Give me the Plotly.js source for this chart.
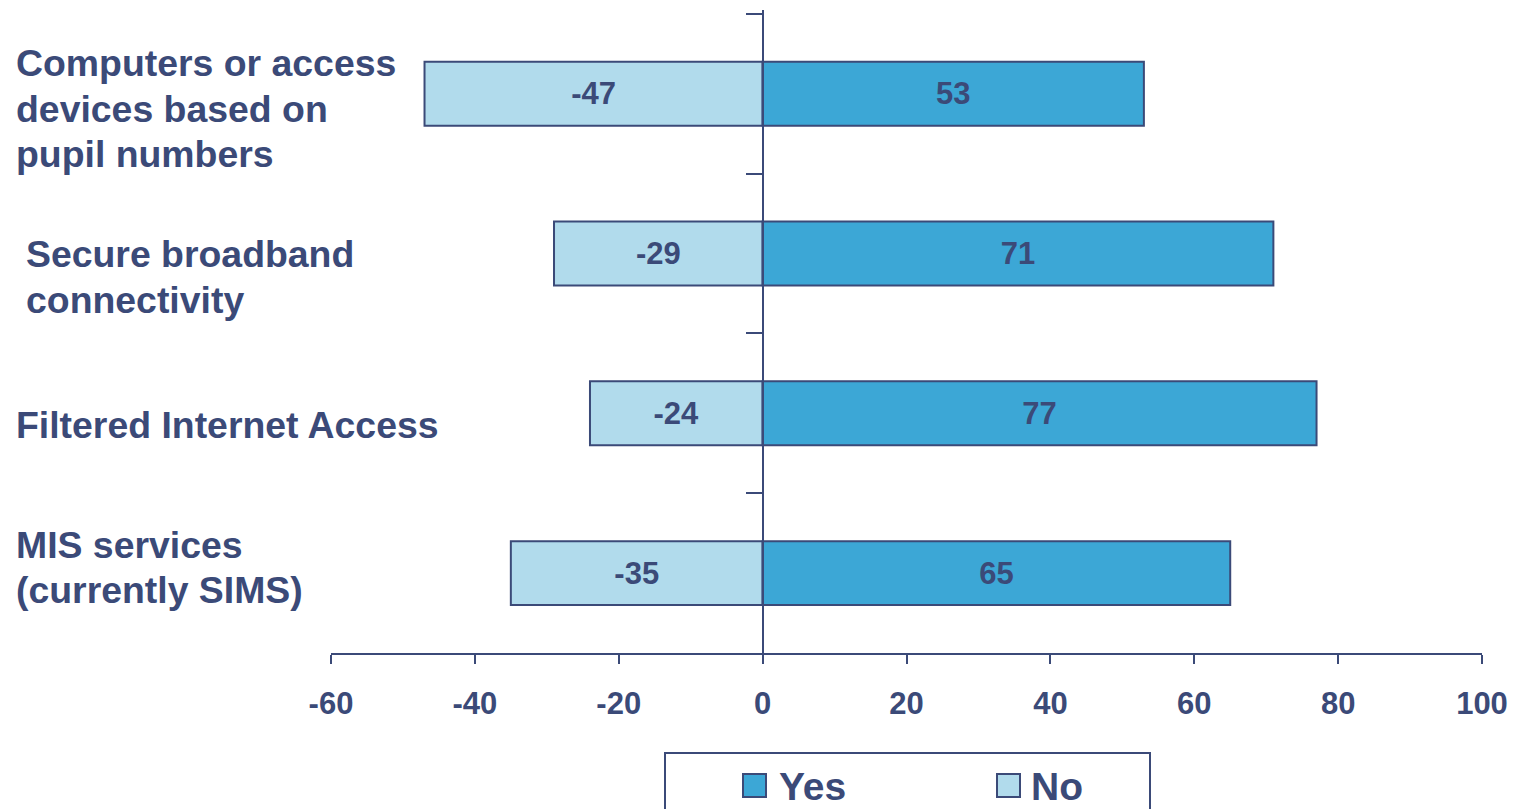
<!DOCTYPE html>
<html>
<head>
<meta charset="utf-8">
<script src="https://cdn.plot.ly/plotly-3.0.1.min.js"></script>
<style>html,body{margin:0;padding:0;background:#fff;}#chart{width:1515px;height:809px;}</style>
</head>
<body>
<div id="chart"></div>
<script>
// ---- data ----
const categories = [
  "Computers or access devices based on pupil numbers",
  "Secure broadband connectivity",
  "Filtered Internet Access",
  "MIS services (currently SIMS)"
];
const categoryLabelLines = [
  ["Computers or access", "devices based on", "pupil numbers"],
  ["Secure broadband", "connectivity"],
  ["Filtered Internet Access"],
  ["MIS services", "(currently SIMS)"]
];
const yesValues = [53, 71, 77, 65];
const noValues = [-47, -29, -24, -35];
const seriesNames = ["Yes", "No"];
const xTickValues = [-60, -40, -20, 0, 20, 40, 60, 80, 100];

// ---- styles ----
const ink = "#3B4A78";
const yesColor = "#3CA7D6";
const noColor = "#B1DBEC";
const fontFam = "Liberation Sans, Arial, sans-serif";
const xRange = [-60, 100];

const W = 1515, H = 809;
const M = {l: 331, r: 33, t: 10, b: 156};
const plotW = W - M.l - M.r, plotH = H - M.t - M.b;
const px2x = p => (p - M.l) / plotW;
const px2y = p => (H - M.b - p) / plotH;

const traces = [
  {
    type: "bar", orientation: "h", name: seriesNames[1],
    y: categories, x: noValues, text: noValues.map(String),
    textposition: "inside", insidetextanchor: "middle",
    textfont: {family: fontFam, size: 31, color: ink, weight: "bold"},
    marker: {color: noColor, line: {color: ink, width: 2}},
    width: 0.4, showlegend: false, hoverinfo: "x+y"
  },
  {
    type: "bar", orientation: "h", name: seriesNames[0],
    y: categories, x: yesValues, text: yesValues.map(String),
    textposition: "inside", insidetextanchor: "middle",
    textfont: {family: fontFam, size: 31, color: ink, weight: "bold"},
    marker: {color: yesColor, line: {color: ink, width: 2}},
    width: 0.4, showlegend: false, hoverinfo: "x+y"
  }
];

// category label placement (px offsets of first line from band centre, and left edge)
const labelFirstShift = [30.3, -0.7, -11.4, 28.3];
const labelLeftPx = [17, 27, 17, 17];
const lineGap = 45.5;

const annotations = [];
categories.forEach((c, i) => {
  categoryLabelLines[i].forEach((line, k) => {
    annotations.push({
      xref: "paper", yref: "y", x: 0, y: c,
      xanchor: "left", yanchor: "middle", align: "left",
      xshift: labelLeftPx[i] - M.l - 3, yshift: labelFirstShift[i] - k * lineGap,
      text: line, showarrow: false,
      font: {family: fontFam, size: 37.4, color: ink, weight: "bold"}
    });
  });
});

// manual legend
const legendColors = [yesColor, noColor];
const legendSquareLeft = [743, 997];
const legendTextLeft = [780, 1032];
const shapes = [
  {type: "rect", xref: "paper", yref: "paper",
   x0: px2x(665), x1: px2x(1150), y0: px2y(840), y1: px2y(753),
   line: {color: ink, width: 2}, fillcolor: "#fff", layer: "above"}
];
seriesNames.forEach((name, i) => {
  shapes.push({type: "rect", xref: "paper", yref: "paper",
    x0: px2x(legendSquareLeft[i]), x1: px2x(legendSquareLeft[i] + 23),
    y0: px2y(797), y1: px2y(774),
    line: {color: ink, width: 2}, fillcolor: legendColors[i], layer: "above"});
  annotations.push({xref: "paper", yref: "paper",
    x: px2x(legendTextLeft[i]), y: px2y(786),
    xanchor: "left", yanchor: "middle", xshift: -3, showarrow: false,
    text: name, font: {family: fontFam, size: 39, color: ink, weight: "bold"}});
});

const layout = {
  width: W, height: H,
  margin: {l: M.l, r: M.r, t: M.t, b: M.b, autoexpand: false},
  paper_bgcolor: "#fff", plot_bgcolor: "#fff",
  barmode: "relative",
  showlegend: false,
  xaxis: {
    range: xRange, tickvals: xTickValues, ticktext: xTickValues.map(String),
    showgrid: false, zeroline: false,
    showline: true, linecolor: ink, linewidth: 2,
    ticks: "outside", ticklen: 9, tickwidth: 2, tickcolor: ink,
    ticklabelstandoff: 13,
    tickfont: {family: fontFam, size: 31, color: ink, weight: "bold"},
    fixedrange: true
  },
  yaxis: {
    type: "category", categoryorder: "array", categoryarray: categories,
    autorange: "reversed",
    anchor: "free", position: (0 - xRange[0]) / (xRange[1] - xRange[0]),
    showline: true, linecolor: ink, linewidth: 2,
    ticks: "outside", tickson: "boundaries", ticklen: 16, tickwidth: 2, tickcolor: ink,
    showticklabels: false, showgrid: false, zeroline: false, fixedrange: true
  },
  annotations: annotations,
  shapes: shapes
};

Plotly.newPlot("chart", traces, layout, {displayModeBar: false, staticPlot: true});
</script>
</body>
</html>
